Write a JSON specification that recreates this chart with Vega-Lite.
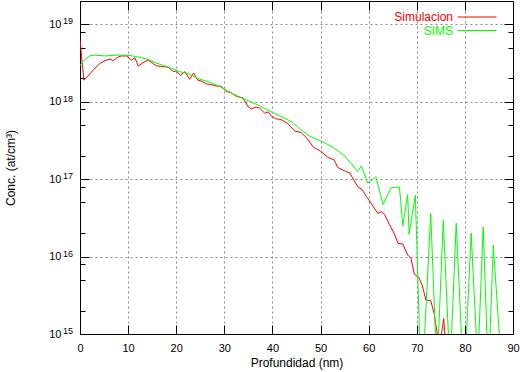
{
  "$schema": "https://vega.github.io/schema/vega-lite/v6.json",
  "width": 433,
  "height": 333,
  "autosize": {"type": "none"},
  "padding": {"left": 80, "top": 1, "right": 7, "bottom": 38},
  "background": "white",
  "config": {
    "font": "Liberation Sans",
    "view": {"stroke": "black", "strokeWidth": 1},
    "axis": {"labelFont": "Liberation Sans", "titleFont": "Liberation Sans", "labelColor": "black", "titleColor": "black", "titleFontWeight": "normal", "tickColor": "black", "tickWidth": 1, "domain": false, "gridColor": "#888888", "gridDash": [2, 3], "gridWidth": 1}
  },
  "data": {"values": [
    {"series": "Simulacion", "depth": 0, "conc": 6.3e18},
    {"series": "Simulacion", "depth": 0.8, "conc": 1.9e18},
    {"series": "Simulacion", "depth": 2.1, "conc": 2.3e18},
    {"series": "Simulacion", "depth": 2.8, "conc": 2.6e18},
    {"series": "Simulacion", "depth": 4.1, "conc": 3.1e18},
    {"series": "Simulacion", "depth": 5.2, "conc": 3.4e18},
    {"series": "Simulacion", "depth": 6.2, "conc": 3.55e18},
    {"series": "Simulacion", "depth": 6.9, "conc": 3.4e18},
    {"series": "Simulacion", "depth": 8.0, "conc": 3.8e18},
    {"series": "Simulacion", "depth": 8.6, "conc": 3.9e18},
    {"series": "Simulacion", "depth": 9.7, "conc": 3.9e18},
    {"series": "Simulacion", "depth": 10.7, "conc": 3.45e18},
    {"series": "Simulacion", "depth": 11.4, "conc": 3.7e18},
    {"series": "Simulacion", "depth": 12.1, "conc": 2.9e18},
    {"series": "Simulacion", "depth": 13.3, "conc": 3.25e18},
    {"series": "Simulacion", "depth": 14.2, "conc": 3.45e18},
    {"series": "Simulacion", "depth": 15.9, "conc": 2.9e18},
    {"series": "Simulacion", "depth": 17.0, "conc": 2.85e18},
    {"series": "Simulacion", "depth": 18.3, "conc": 2.8e18},
    {"series": "Simulacion", "depth": 19.4, "conc": 2.45e18},
    {"series": "Simulacion", "depth": 20.0, "conc": 2.5e18},
    {"series": "Simulacion", "depth": 20.9, "conc": 2.2e18},
    {"series": "Simulacion", "depth": 21.8, "conc": 2.45e18},
    {"series": "Simulacion", "depth": 22.8, "conc": 1.95e18},
    {"series": "Simulacion", "depth": 23.6, "conc": 2.35e18},
    {"series": "Simulacion", "depth": 24.5, "conc": 1.9e18},
    {"series": "Simulacion", "depth": 25.2, "conc": 1.85e18},
    {"series": "Simulacion", "depth": 26.3, "conc": 1.7e18},
    {"series": "Simulacion", "depth": 27.3, "conc": 1.66e18},
    {"series": "Simulacion", "depth": 28.3, "conc": 1.6e18},
    {"series": "Simulacion", "depth": 29.4, "conc": 1.58e18},
    {"series": "Simulacion", "depth": 30.4, "conc": 1.35e18},
    {"series": "Simulacion", "depth": 31.3, "conc": 1.32e18},
    {"series": "Simulacion", "depth": 32.5, "conc": 1.17e18},
    {"series": "Simulacion", "depth": 33.9, "conc": 1.12e18},
    {"series": "Simulacion", "depth": 34.9, "conc": 8.7e17},
    {"series": "Simulacion", "depth": 35.6, "conc": 8.1e17},
    {"series": "Simulacion", "depth": 36.6, "conc": 8.5e17},
    {"series": "Simulacion", "depth": 37.3, "conc": 8.3e17},
    {"series": "Simulacion", "depth": 38.4, "conc": 7.1e17},
    {"series": "Simulacion", "depth": 39.1, "conc": 7.4e17},
    {"series": "Simulacion", "depth": 39.8, "conc": 6.5e17},
    {"series": "Simulacion", "depth": 40.8, "conc": 6.0e17},
    {"series": "Simulacion", "depth": 41.8, "conc": 5.9e17},
    {"series": "Simulacion", "depth": 43.2, "conc": 5.2e17},
    {"series": "Simulacion", "depth": 44.6, "conc": 4.2e17},
    {"series": "Simulacion", "depth": 46.0, "conc": 4.0e17},
    {"series": "Simulacion", "depth": 47.3, "conc": 3.3e17},
    {"series": "Simulacion", "depth": 48.5, "conc": 2.6e17},
    {"series": "Simulacion", "depth": 50.0, "conc": 2.3e17},
    {"series": "Simulacion", "depth": 51.6, "conc": 1.9e17},
    {"series": "Simulacion", "depth": 52.8, "conc": 1.78e17},
    {"series": "Simulacion", "depth": 53.6, "conc": 1.41e17},
    {"series": "Simulacion", "depth": 55.2, "conc": 1.26e17},
    {"series": "Simulacion", "depth": 56.1, "conc": 1.2e17},
    {"series": "Simulacion", "depth": 57.0, "conc": 9.5e16},
    {"series": "Simulacion", "depth": 57.8, "conc": 7.9e16},
    {"series": "Simulacion", "depth": 58.6, "conc": 7.4e16},
    {"series": "Simulacion", "depth": 59.5, "conc": 6.0e16},
    {"series": "Simulacion", "depth": 60.5, "conc": 4.9e16},
    {"series": "Simulacion", "depth": 61.9, "conc": 3.6e16},
    {"series": "Simulacion", "depth": 62.6, "conc": 3.8e16},
    {"series": "Simulacion", "depth": 63.3, "conc": 3.5e16},
    {"series": "Simulacion", "depth": 64.3, "conc": 2.6e16},
    {"series": "Simulacion", "depth": 65.3, "conc": 2.0e16},
    {"series": "Simulacion", "depth": 66.1, "conc": 1.48e16},
    {"series": "Simulacion", "depth": 67.1, "conc": 1.45e16},
    {"series": "Simulacion", "depth": 68.1, "conc": 1.05e16},
    {"series": "Simulacion", "depth": 68.8, "conc": 9.5e15},
    {"series": "Simulacion", "depth": 69.5, "conc": 5.9e15},
    {"series": "Simulacion", "depth": 70.4, "conc": 5.4e15},
    {"series": "Simulacion", "depth": 71.1, "conc": 4.3e15},
    {"series": "Simulacion", "depth": 71.9, "conc": 2.75e15},
    {"series": "Simulacion", "depth": 72.9, "conc": 2.7e15},
    {"series": "Simulacion", "depth": 73.6, "conc": 1.86e15},
    {"series": "Simulacion", "depth": 74.4, "conc": 8.9e14},
    {"series": "Simulacion", "depth": 75.0, "conc": 8.9e14},
    {"series": "Simulacion", "depth": 75.6, "conc": 1.58e15},
    {"series": "Simulacion", "depth": 75.9, "conc": 8.5e14},
    {"series": "SIMS", "depth": 0, "conc": 2.95e18},
    {"series": "SIMS", "depth": 0.8, "conc": 3.4e18},
    {"series": "SIMS", "depth": 1.9, "conc": 3.9e18},
    {"series": "SIMS", "depth": 3.1, "conc": 4.0e18},
    {"series": "SIMS", "depth": 5.2, "conc": 3.9e18},
    {"series": "SIMS", "depth": 7.5, "conc": 4.0e18},
    {"series": "SIMS", "depth": 9.3, "conc": 4.0e18},
    {"series": "SIMS", "depth": 11.0, "conc": 3.9e18},
    {"series": "SIMS", "depth": 12.8, "conc": 3.7e18},
    {"series": "SIMS", "depth": 14.2, "conc": 3.5e18},
    {"series": "SIMS", "depth": 15.6, "conc": 3.2e18},
    {"series": "SIMS", "depth": 17.3, "conc": 2.95e18},
    {"series": "SIMS", "depth": 19.0, "conc": 2.7e18},
    {"series": "SIMS", "depth": 20.7, "conc": 2.45e18},
    {"series": "SIMS", "depth": 22.5, "conc": 2.3e18},
    {"series": "SIMS", "depth": 24.9, "conc": 1.95e18},
    {"series": "SIMS", "depth": 26.6, "conc": 1.82e18},
    {"series": "SIMS", "depth": 29.0, "conc": 1.58e18},
    {"series": "SIMS", "depth": 31.8, "conc": 1.26e18},
    {"series": "SIMS", "depth": 34.6, "conc": 1.05e18},
    {"series": "SIMS", "depth": 37.3, "conc": 8.9e17},
    {"series": "SIMS", "depth": 40.1, "conc": 7.2e17},
    {"series": "SIMS", "depth": 42.2, "conc": 6.3e17},
    {"series": "SIMS", "depth": 44.2, "conc": 5.4e17},
    {"series": "SIMS", "depth": 45.6, "conc": 4.5e17},
    {"series": "SIMS", "depth": 47.7, "conc": 3.6e17},
    {"series": "SIMS", "depth": 50.1, "conc": 3.1e17},
    {"series": "SIMS", "depth": 52.5, "conc": 2.6e17},
    {"series": "SIMS", "depth": 55.0, "conc": 2.0e17},
    {"series": "SIMS", "depth": 57.7, "conc": 1.26e17},
    {"series": "SIMS", "depth": 58.5, "conc": 1.48e17},
    {"series": "SIMS", "depth": 59.8, "conc": 8.9e16},
    {"series": "SIMS", "depth": 61.5, "conc": 1.07e17},
    {"series": "SIMS", "depth": 63.0, "conc": 4.7e16},
    {"series": "SIMS", "depth": 64.7, "conc": 7.8e16},
    {"series": "SIMS", "depth": 66.4, "conc": 7.9e16},
    {"series": "SIMS", "depth": 67.1, "conc": 2.5e16},
    {"series": "SIMS", "depth": 68.1, "conc": 6.3e16},
    {"series": "SIMS", "depth": 68.4, "conc": 1.95e16},
    {"series": "SIMS", "depth": 69.7, "conc": 6.2e16},
    {"series": "SIMS", "depth": 70.6, "conc": 9e14},
    {"series": "SIMS", "depth": 71.6, "conc": 9e14},
    {"series": "SIMS", "depth": 72.9, "conc": 3.6e16},
    {"series": "SIMS", "depth": 73.9, "conc": 9e14},
    {"series": "SIMS", "depth": 74.5, "conc": 9e14},
    {"series": "SIMS", "depth": 75.5, "conc": 2.95e16},
    {"series": "SIMS", "depth": 76.6, "conc": 9e14},
    {"series": "SIMS", "depth": 77.2, "conc": 9e14},
    {"series": "SIMS", "depth": 78.2, "conc": 2.7e16},
    {"series": "SIMS", "depth": 79.3, "conc": 9e14},
    {"series": "SIMS", "depth": 80.3, "conc": 9e14},
    {"series": "SIMS", "depth": 81.3, "conc": 2.0e16},
    {"series": "SIMS", "depth": 82.4, "conc": 9e14},
    {"series": "SIMS", "depth": 82.9, "conc": 9e14},
    {"series": "SIMS", "depth": 83.8, "conc": 2.4e16},
    {"series": "SIMS", "depth": 84.6, "conc": 9e14},
    {"series": "SIMS", "depth": 85.2, "conc": 9e14},
    {"series": "SIMS", "depth": 85.9, "conc": 1.4e16},
    {"series": "SIMS", "depth": 87.2, "conc": 9e14}
  ]},
  "resolve": {"axis": {"x": "independent", "y": "independent"}},
  "layer": [
    {
      "mark": {"type": "line", "clip": true, "strokeWidth": 1},
      "encoding": {
        "x": {"field": "depth", "type": "quantitative", "scale": {"domain": [0, 90], "nice": false, "zero": false},
          "axis": {"orient": "bottom", "values": [0, 10, 20, 30, 40, 50, 60, 70, 80, 90], "ticks": false, "labelFontSize": 11, "labelPadding": 8, "labelFlush": false,
            "grid": true, "gridOpacity": {"condition": {"test": "datum.value > 0 && datum.value < 90", "value": 1}, "value": 0},
            "title": "Profundidad (nm)", "titleFontSize": 12, "titleY": 28, "titleBaseline": "middle"}},
        "y": {"field": "conc", "type": "quantitative", "scale": {"type": "log", "domain": [1e15, 2e19], "nice": false},
          "axis": {"orient": "left", "values": [1e15, 1e16, 1e17, 1e18, 1e19], "labelExpr": "'10'", "ticks": false, "labelFontSize": 11, "labelPadding": 19, "labelBaseline": "middle", "labelFlush": false,
            "grid": true, "gridOpacity": {"condition": {"test": "datum.value > 2e15", "value": 1}, "value": 0},
            "title": "Conc. (at/cm³)", "titleFontSize": 12, "titleX": -70, "titleY": 166.5, "titleAngle": 270, "titleAlign": "center", "titleBaseline": "middle"}},
        "color": {"field": "series", "type": "nominal",
          "scale": {"domain": ["Simulacion", "SIMS"], "range": ["#ff0000", "#00ff00"]},
          "legend": {"orient": "none", "legendX": 372, "legendY": 10, "title": null, "padding": 0,
            "labelAlign": "right", "labelBaseline": "middle", "labelFontSize": 12, "labelFont": "Liberation Sans", "labelOffset": -30,
            "symbolOffset": 19, "symbolType": "M-4,0H4", "symbolSize": 95, "symbolStrokeWidth": 1.2, "rowPadding": 1.5,
            "encode": {"labels": {"update": {"fill": {"signal": "datum.value === 'SIMS' ? '#00ff00' : '#ff0000'"}}},
                       "symbols": {"update": {"stroke": {"signal": "datum.value === 'SIMS' ? '#00ff00' : '#ff0000'"}, "strokeOpacity": {"value": 1}, "fillOpacity": {"value": 0}}}}}}
      }
    },
    {
      "mark": {"type": "point", "opacity": 0, "clip": true},
      "encoding": {
        "x": {"field": "depth", "type": "quantitative", "scale": {"domain": [0, 90], "nice": false, "zero": false},
          "axis": {"orient": "top", "values": [0, 10, 20, 30, 40, 50, 60, 70, 80, 90], "labels": false, "ticks": true, "tickSize": -9, "grid": false, "title": null}},
        "y": {"field": "conc", "type": "quantitative", "scale": {"type": "log", "domain": [1e15, 2e19], "nice": false},
          "axis": {"orient": "left", "values": [1e15, 1e16, 1e17, 1e18, 1e19], "labelExpr": "'' + round(log(datum.value) / LN10)", "ticks": false, "labelFontSize": 9, "labelAlign": "left", "labelBaseline": "middle", "labelPadding": 17.5, "labelOffset": -3.5, "labelFlush": false, "grid": false, "title": null}}
      }
    },
    {
      "mark": {"type": "point", "opacity": 0, "clip": true},
      "encoding": {
        "x": {"field": "depth", "type": "quantitative", "scale": {"domain": [0, 90], "nice": false, "zero": false},
          "axis": {"orient": "bottom", "values": [0, 10, 20, 30, 40, 50, 60, 70, 80, 90], "labels": false, "ticks": true, "tickSize": -9, "grid": false, "title": null}},
        "y": {"field": "conc", "type": "quantitative", "scale": {"type": "log", "domain": [1e15, 2e19], "nice": false},
          "axis": {"orient": "left", "values": [1e15, 2e15, 5e15, 8e15, 1e16, 2e16, 5e16, 8e16, 1e17, 2e17, 5e17, 8e17, 1e18, 2e18, 5e18, 8e18, 1e19], "labels": false, "ticks": true,
            "tickSize": {"condition": {"test": "abs(log(datum.value) / LN10 - round(log(datum.value) / LN10)) < 0.001", "value": -9}, "value": -5}, "grid": false, "title": null}}
      }
    },
    {
      "mark": {"type": "point", "opacity": 0, "clip": true},
      "encoding": {
        "x": {"field": "depth", "type": "quantitative", "scale": {"domain": [0, 90], "nice": false, "zero": false}, "axis": null},
        "y": {"field": "conc", "type": "quantitative", "scale": {"type": "log", "domain": [1e15, 2e19], "nice": false},
          "axis": {"orient": "right", "values": [1e15, 2e15, 5e15, 8e15, 1e16, 2e16, 5e16, 8e16, 1e17, 2e17, 5e17, 8e17, 1e18, 2e18, 5e18, 8e18, 1e19], "labels": false, "ticks": true,
            "tickSize": {"condition": {"test": "abs(log(datum.value) / LN10 - round(log(datum.value) / LN10)) < 0.001", "value": -9}, "value": -5}, "grid": false, "title": null}}
      }
    }
  ]
}
